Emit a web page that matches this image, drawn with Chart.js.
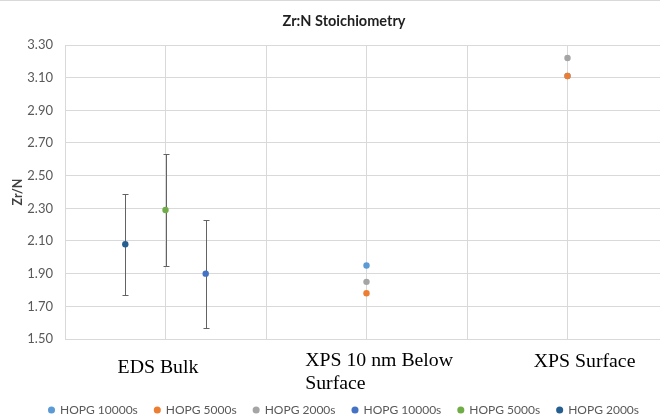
<!DOCTYPE html>
<html>
<head>
<meta charset="utf-8">
<script src="https://cdn.jsdelivr.net/npm/chart.js@4.4.1/dist/chart.umd.min.js"></script>
<style>
  html, body { margin: 0; padding: 0; overflow: hidden; background: #fff; }
  #wrap { position: relative; width: 686px; height: 420px; }
  #wrap::before { content: ""; position: absolute; left: 0; top: 0; width: 100%; height: 1px; background: #d9d9d9; z-index: 2; }
</style>
</head>
<body>
<div id="wrap"><canvas id="c" width="686" height="420"></canvas></div>
<script>
// ---- data ----
const categoryLabels = [["EDS Bulk"], ["XPS 10 nm Below", "Surface"], ["XPS Surface"]];
const categoryAt = [0.925, 2.39, 5.17];
const categoryAlign = ["center", "left", "center"];
const categoryBaseline = [373, 366, 367];

const seriesNames = ["HOPG 10000s", "HOPG 5000s", "HOPG 2000s", "HOPG 10000s", "HOPG 5000s", "HOPG 2000s"];
const seriesColors = ["#5B9BD5", "#ED7D31", "#A5A5A5", "#4472C4", "#70AD47", "#255E91"];

const s1x = [3, 5];     const s1y = [1.95, 3.11];
const s2x = [3, 5];     const s2y = [1.78, 3.11];
const s3x = [3, 5];     const s3y = [1.85, 3.22];
const s4x = [1.4];      const s4y = [1.90];   const s4err = [0.33];
const s5x = [1.0];      const s5y = [2.29];   const s5err = [0.34];
const s6x = [0.6];      const s6y = [2.08];   const s6err = [0.31];

const yTicks = [1.50, 1.70, 1.90, 2.10, 2.30, 2.50, 2.70, 2.90, 3.10, 3.30];

const xs = [s1x, s2x, s3x, s4x, s5x, s6x];
const ys = [s1y, s2y, s3y, s4y, s5y, s6y];
const errs = [null, null, null, s4err, s5err, s6err];

const datasets = seriesNames.map((name, i) => ({
  label: name,
  data: xs[i].map((x, j) => ({ x: x, y: ys[i][j] })),
  err: errs[i],
  backgroundColor: seriesColors[i],
  borderColor: seriesColors[i],
  pointRadius: 3.2,
  pointBorderWidth: 0,
  showLine: false,
  order: 6 - i
}));

const errorBars = {
  id: 'errorBars',
  beforeDatasetsDraw(chart) {
    const ctx = chart.ctx;
    const xS = chart.scales.x, yS = chart.scales.y;
    ctx.save();
    ctx.strokeStyle = '#636363';
    ctx.lineWidth = 1;
    chart.data.datasets.forEach(ds => {
      if (!ds.err) return;
      ds.data.forEach((p, j) => {
        const px = Math.round(xS.getPixelForValue(p.x)) + 0.5;
        const top = Math.round(yS.getPixelForValue(p.y + ds.err[j])) + 0.5;
        const bot = Math.round(yS.getPixelForValue(p.y - ds.err[j])) + 0.5;
        ctx.beginPath();
        ctx.moveTo(px, top); ctx.lineTo(px, bot);
        ctx.moveTo(px - 3, top); ctx.lineTo(px + 3, top);
        ctx.moveTo(px - 3, bot); ctx.lineTo(px + 3, bot);
        ctx.stroke();
      });
    });
    ctx.restore();
  }
};

const catLabels = {
  id: 'catLabels',
  afterDraw(chart) {
    const ctx = chart.ctx;
    const xS = chart.scales.x;
    ctx.save();
    ctx.fillStyle = '#000';
    ctx.font = '19.8px "Liberation Serif", "Times New Roman", serif';
    ctx.textBaseline = 'alphabetic';
    categoryLabels.forEach((lines, i) => {
      const px = xS.getPixelForValue(categoryAt[i]);
      ctx.textAlign = categoryAlign[i];
      lines.forEach((ln, k) => ctx.fillText(ln, px, categoryBaseline[i] + k * 23));
    });
    ctx.restore();
  }
};

new Chart(document.getElementById('c'), {
  type: 'scatter',
  data: { datasets: datasets },
  options: {
    responsive: false,
    animation: false,
    layout: { padding: { left: 20, right: 18, top: 0, bottom: 0 } },
    plugins: {
      tooltip: { enabled: false },
      title: {
        display: true,
        text: 'Zr:N Stoichiometry',
        color: '#1f1f1f',
        font: { family: 'Lato, "Open Sans", sans-serif', size: 14.5, weight: 'bold', lineHeight: 1.2 },
        padding: { top: 12.3, bottom: 15.3 }
      },
      legend: {
        position: 'bottom',
        maxHeight: 33,
        labels: {
          usePointStyle: true,
          pointStyle: 'circle',
          boxWidth: 5,
          boxHeight: 5,
          padding: 17,
          color: '#595959',
          font: { family: 'Lato, "Open Sans", sans-serif', size: 12 },
          sort: (a, b) => a.datasetIndex - b.datasetIndex
        }
      }
    },
    scales: {
      x: {
        type: 'linear',
        min: 0, max: 6,
        ticks: { stepSize: 1, display: false },
        grid: { color: '#d9d9d9', drawTicks: false },
        border: { display: false },
        afterFit(s) { s.height = 48; }
      },
      y: {
        type: 'linear',
        min: 1.5, max: 3.3,
        afterBuildTicks(s) { s.ticks = yTicks.map(v => ({ value: v })); },
        ticks: {
          padding: 12,
          color: '#595959',
          font: { family: 'Lato, "Open Sans", sans-serif', size: 13 },
          callback: v => Number(v).toFixed(2)
        },
        grid: { color: '#d9d9d9', drawTicks: false },
        border: { display: true, color: '#d9d9d9' },
        title: {
          display: true,
          text: 'Zr/N',
          color: '#404040',
          font: { family: 'Lato, "Open Sans", sans-serif', size: 12.5, weight: 'bold' },
          padding: { top: -10, bottom: 4 }
        },
        afterFit(s) { s.width = 45; }
      }
    }
  },
  plugins: [errorBars, catLabels]
});
</script>
</body>
</html>
